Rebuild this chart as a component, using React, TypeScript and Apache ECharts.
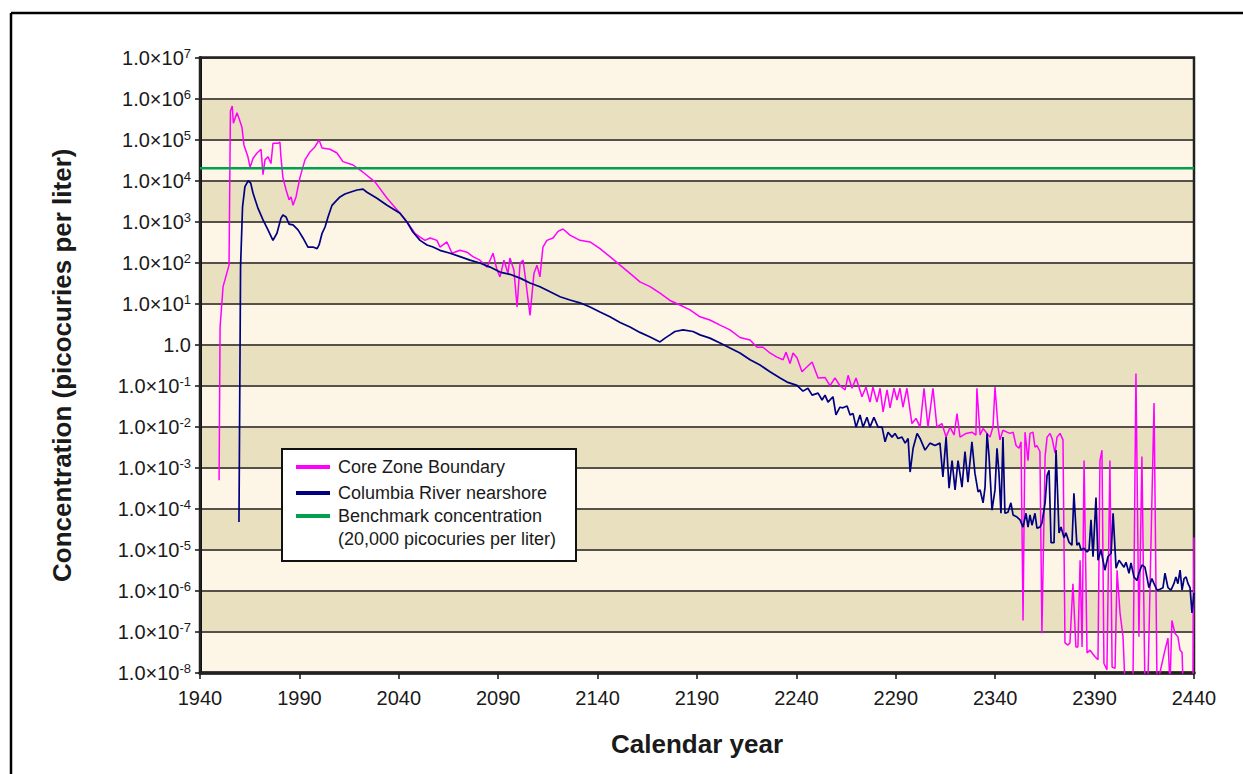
import React, { useEffect, useRef } from "react";
import * as echarts from "echarts";

const FONT = '"Liberation Sans", Arial, Helvetica, sans-serif';

// Tick years on the x axis
const yearTicks = [1940, 1990, 2040, 2090, 2140, 2190, 2240, 2290, 2340, 2390, 2440];

// Benchmark concentration (picocuries per liter)
const benchmarkValue = 20000;

// Core Zone Boundary: [calendar year, concentration pCi/L]
const coreZone: [number, number][] = [
  [1949.6, 5e-4], [1950.1, 2.7], [1951.6, 26], [1954.6, 87], [1955.3, 5.0e5], [1956.2, 6.6e5],
  [1956.8, 2.5e5], [1958.6, 4.5e5], [1959.6, 3.3e5], [1961.1, 2.0e5], [1962.1, 7.4e4],
  [1964.1, 3.8e4], [1965.2, 2.1e4], [1966.7, 3.5e4], [1968.7, 4.7e4], [1970.7, 5.8e4],
  [1971.7, 1.4e4], [1972.7, 3.2e4], [1974.2, 3.8e4], [1975.7, 2.6e4], [1976.7, 8.1e4],
  [1979.2, 8.1e4], [1980.2, 8.7e4], [1980.7, 3.8e4], [1981.7, 1.2e4], [1983.3, 5.9e3],
  [1984.8, 3.4e3], [1985.8, 4.0e3], [1986.8, 2.5e3], [1988.3, 4.0e3], [1990.3, 1.2e4],
  [1992.8, 3.2e4], [1995.3, 5.0e4], [1997.8, 6.6e4], [1999.9, 9.8e4], [2001.4, 6.2e4],
  [2005.4, 5.8e4], [2008.9, 4.7e4], [2011.9, 2.9e4], [2017.0, 2.4e4], [2022.0, 1.6e4],
  [2028.0, 9.3e3], [2034.1, 3.7e3], [2040.6, 1.6e3], [2044.1, 980], [2048.1, 520],
  [2050.7, 420], [2053.2, 350], [2055.7, 400], [2059.2, 350], [2060.7, 240], [2064.2, 320],
  [2066.8, 170], [2070.8, 200], [2074.3, 180], [2077.3, 140], [2080.8, 115], [2084.4, 78],
  [2085.9, 115], [2087.4, 170], [2089.4, 66], [2090.9, 45], [2092.9, 115], [2094.9, 55],
  [2095.9, 130], [2097.9, 66], [2099.5, 8.3], [2101.0, 98], [2102.5, 115], [2104.0, 32],
  [2106.0, 5.2], [2108.0, 55], [2109.5, 87], [2111.0, 45], [2112.5, 240], [2114.5, 350],
  [2117.6, 400], [2120.1, 580], [2122.6, 660], [2126.1, 470], [2131.1, 350], [2136.2, 320],
  [2141.2, 220], [2146.2, 140], [2151.3, 87], [2156.3, 55], [2161.3, 34], [2166.4, 26],
  [2171.4, 18], [2176.4, 12], [2181.4, 9.3], [2186.5, 7.1], [2191.5, 4.8], [2196.5, 4.0],
  [2201.6, 3.0], [2206.6, 2.3], [2211.6, 1.5], [2216.7, 1.3], [2220.2, 0.87], [2223.2, 0.87],
  [2226.7, 0.63], [2230.2, 0.5], [2233.3, 0.43], [2234.8, 0.66], [2236.8, 0.35], [2238.3, 0.63],
  [2240.3, 0.48], [2242.8, 0.22], [2247.9, 0.38], [2250.9, 0.155], [2254.4, 0.16], [2256.9, 0.1],
  [2259.4, 0.155], [2261.9, 0.1], [2264.5, 0.079], [2266.0, 0.18], [2268.0, 0.087], [2270.0, 0.155],
  [2273.0, 0.054], [2275.0, 0.093], [2277.0, 0.04], [2278.5, 0.093], [2280.5, 0.04], [2282.1, 0.087],
  [2283.6, 0.023], [2285.6, 0.079], [2287.1, 0.029], [2289.1, 0.087], [2290.6, 0.045], [2292.1, 0.087],
  [2293.6, 0.03], [2295.6, 0.087], [2298.1, 0.012], [2300.2, 0.016], [2302.2, 0.0098], [2304.2, 0.087],
  [2306.2, 0.0098], [2308.7, 0.087], [2310.7, 0.0098], [2313.2, 0.012], [2315.3, 0.0056], [2317.3, 0.0098],
  [2319.3, 0.0063], [2320.8, 0.021], [2322.3, 0.0056], [2325.3, 0.0069], [2328.3, 0.0074], [2330.3, 0.0063],
  [2330.8, 0.087], [2332.4, 0.0063], [2333.9, 0.0091], [2337.4, 0.0056], [2338.9, 0.01], [2339.9, 0.093],
  [2341.4, 0.01], [2342.4, 0.0048], [2343.9, 0.0083], [2345.9, 0.0074], [2347.4, 0.0069], [2349.0, 0.0074],
  [2350.5, 0.0035], [2352.0, 0.003], [2353.0, 0.0043], [2354.0, 1.9e-7], [2355.0, 0.0074], [2356.5, 0.0015],
  [2357.5, 0.0069], [2359.0, 0.0074], [2360.0, 0.0032], [2361.0, 0.0035], [2362.5, 0.0025], [2363.5, 9.3e-8],
  [2365.1, 0.0019], [2366.1, 0.0056], [2367.6, 0.0069], [2368.6, 0.0052], [2370.1, 0.0023], [2371.1, 0.0056],
  [2372.6, 0.0069], [2374.1, 0.0048], [2375.1, 5.4e-8], [2376.6, 4.8e-8], [2377.6, 5.4e-8], [2379.1, 1.5e-6],
  [2380.6, 4.3e-8], [2381.6, 4.3e-8], [2382.7, 5.6e-6], [2383.7, 4.3e-8], [2384.7, 0.0015], [2386.2, 3.1e-8],
  [2387.7, 3.6e-8], [2390.2, 2.5e-8], [2391.7, 2.1e-8], [2392.7, 0.0015], [2393.7, 0.0027], [2394.7, 1.7e-8],
  [2396.2, 1.2e-8], [2397.7, 0.0015], [2398.8, 1.4e-8], [2400.3, 1.3e-8], [2401.3, 3.2e-6], [2402.8, 2.9e-7],
  [2404.3, 7.6e-8], [2405.3, 5e-9], [2409.3, 5e-9], [2410.8, 0.2], [2412.3, 7.6e-8], [2413.8, 0.0019],
  [2415.3, 5e-9], [2416.8, 5e-9], [2419.9, 0.038], [2421.4, 5e-9], [2425.4, 3.6e-8], [2426.9, 7.1e-8],
  [2427.9, 5e-9], [2428.9, 1.9e-7], [2430.4, 9.3e-8], [2431.9, 7.6e-8], [2433.0, 3.6e-8], [2434.0, 3.2e-8],
  [2434.5, 5e-9], [2439.5, 5e-9], [2440.0, 2e-5],
];

// Columbia River nearshore: [calendar year, concentration pCi/L]
const riverNearshore: [number, number][] = [
  [1959.6, 4.8e-5], [1960.4, 80], [1961.4, 2.3e3], [1962.6, 7.1e3], [1964.3, 1.0e4], [1965.5, 8.7e3],
  [1966.7, 4.9e3], [1969.2, 2.1e3], [1971.7, 1.1e3], [1974.2, 630], [1976.7, 350], [1978.7, 520],
  [1980.7, 1.2e3], [1981.7, 1.45e3], [1983.3, 1.3e3], [1984.8, 870], [1986.8, 830], [1989.3, 630],
  [1991.8, 400], [1994.3, 240], [1996.8, 240], [1998.9, 220], [1999.9, 270], [2001.4, 520],
  [2002.9, 740], [2004.4, 1.3e3], [2006.4, 2.5e3], [2007.9, 3.0e3], [2010.4, 4.0e3], [2012.9, 4.7e3],
  [2015.5, 5.2e3], [2019.0, 5.9e3], [2022.0, 6.2e3], [2024.0, 5.2e3], [2029.0, 3.7e3], [2034.1, 2.5e3],
  [2040.6, 1.6e3], [2044.1, 980], [2047.1, 560], [2050.7, 350], [2054.2, 270], [2057.2, 240],
  [2060.7, 200], [2065.8, 170], [2070.8, 140], [2075.8, 115], [2080.8, 98], [2085.9, 78],
  [2090.9, 59], [2095.9, 52], [2101.0, 42], [2106.0, 32], [2111.0, 26], [2116.1, 19.5],
  [2121.1, 14.8], [2126.1, 12.3], [2131.1, 10.5], [2136.2, 8.3], [2141.2, 6.3], [2146.2, 4.8],
  [2151.3, 3.5], [2156.3, 2.7], [2161.3, 2.0], [2166.4, 1.55], [2171.4, 1.17], [2173.9, 1.45],
  [2176.4, 1.74], [2178.9, 2.1], [2183.0, 2.3], [2188.0, 2.1], [2191.5, 1.74], [2196.5, 1.45],
  [2201.6, 1.1], [2206.6, 0.83], [2211.6, 0.63], [2216.7, 0.43], [2221.7, 0.32], [2226.7, 0.22],
  [2231.8, 0.155], [2235.3, 0.123], [2240.3, 0.102], [2243.3, 0.074], [2245.8, 0.087], [2247.9, 0.059],
  [2250.9, 0.066], [2252.9, 0.045], [2254.4, 0.059], [2255.9, 0.04], [2258.4, 0.054], [2259.9, 0.0195],
  [2261.9, 0.03], [2263.4, 0.029], [2265.5, 0.032], [2267.0, 0.0195], [2268.5, 0.021], [2270.0, 0.0098],
  [2272.0, 0.0195], [2273.5, 0.0098], [2275.5, 0.017], [2277.0, 0.0098], [2279.0, 0.017], [2281.1, 0.0098],
  [2283.1, 0.0098], [2284.6, 0.0043], [2286.1, 0.0074], [2288.1, 0.0056], [2289.6, 0.0069], [2291.1, 0.0052],
  [2293.1, 0.0056], [2294.7, 0.004], [2296.2, 0.0052], [2297.2, 0.00079], [2298.7, 0.003], [2300.7, 0.0069],
  [2302.2, 0.0052], [2304.7, 0.0027], [2307.2, 0.004], [2309.7, 0.0035], [2312.2, 0.004], [2313.7, 0.0006],
  [2315.3, 0.0056], [2316.8, 0.00032], [2318.3, 0.0015], [2319.8, 0.00029], [2321.3, 0.0015], [2323.3, 0.00034],
  [2324.8, 0.0025], [2326.3, 0.00045], [2328.3, 0.0043], [2329.8, 0.00074], [2331.4, 0.00026], [2332.4, 0.00029],
  [2333.9, 0.00014], [2334.9, 0.00034], [2335.9, 0.0069], [2336.9, 0.0019], [2338.4, 9.3e-5], [2339.9, 0.00029],
  [2340.9, 0.003], [2341.9, 0.00074], [2342.9, 7.8e-5], [2343.9, 0.0056], [2344.9, 7.8e-5], [2346.4, 8.3e-5],
  [2347.9, 0.00014], [2349.0, 7.1e-5], [2351.0, 6.3e-5], [2352.5, 5.4e-5], [2354.0, 3.6e-5], [2355.5, 7.8e-5],
  [2356.5, 3.6e-5], [2357.5, 7.1e-5], [2358.5, 4.0e-5], [2360.0, 7.8e-5], [2361.0, 3.4e-5], [2362.5, 3.6e-5],
  [2363.5, 4.5e-5], [2365.1, 0.00014], [2366.1, 0.00066], [2367.1, 0.00087], [2368.1, 1.5e-5], [2369.6, 1.5e-5],
  [2370.6, 0.0027], [2372.1, 2.6e-5], [2373.1, 3.6e-5], [2374.6, 2.0e-5], [2375.6, 2.6e-5], [2377.1, 1.55e-5],
  [2378.6, 1.3e-5], [2379.6, 0.00024], [2381.1, 1.3e-5], [2382.1, 1.5e-5], [2383.2, 1.0e-5], [2384.7, 1.1e-5],
  [2386.2, 8.9e-6], [2387.2, 1.0e-5], [2388.2, 5.4e-5], [2389.2, 6.8e-6], [2390.7, 0.00019], [2391.7, 5.6e-6],
  [2393.2, 1.0e-5], [2394.2, 5.6e-6], [2395.2, 3.2e-6], [2396.7, 6.8e-6], [2398.3, 8.3e-6], [2399.3, 7.8e-5],
  [2400.8, 3.6e-6], [2402.3, 5.6e-6], [2403.3, 4.8e-6], [2404.8, 3.8e-6], [2405.8, 5.0e-6], [2407.3, 2.7e-6],
  [2408.3, 4.8e-6], [2409.8, 2.2e-6], [2411.3, 1.8e-6], [2412.3, 2.7e-6], [2413.8, 4.3e-6], [2415.3, 3.8e-6],
  [2416.3, 2.2e-6], [2417.3, 1.2e-6], [2418.8, 2.0e-6], [2419.9, 1.5e-6], [2421.4, 1.05e-6], [2422.9, 1.1e-6],
  [2424.4, 1.2e-6], [2425.4, 2.7e-6], [2426.9, 1.2e-6], [2428.4, 1.05e-6], [2429.9, 1.5e-6], [2430.9, 2.2e-6],
  [2431.9, 1.5e-6], [2433.0, 3.2e-6], [2434.0, 1.05e-6], [2435.0, 2.0e-6], [2436.0, 2.2e-6], [2437.0, 1.5e-6],
  [2438.0, 1.2e-6], [2439.0, 2.9e-7], [2440.0, 8.9e-7],
];

const seriesNames = [
  "Core Zone Boundary",
  "Columbia River nearshore",
  "Benchmark concentration",
];
const benchmarkNote = "(20,000 picocuries per liter)";

const PINK = "#ff00ff";
const NAVY = "#000080";
const GREEN = "#00a04c";

export default function App() {
  const ref = useRef<HTMLDivElement>(null);

  useEffect(() => {
    document.body.style.margin = "0";
    if (!ref.current) return;
    const chart = echarts.init(ref.current, null, { renderer: "svg" });

    const legendRows = [
      { y: 467, color: PINK, text: seriesNames[0] },
      { y: 493, color: NAVY, text: seriesNames[1] },
      { y: 516, color: GREEN, text: seriesNames[2] },
    ];

    const graphic: any[] = [
      { type: "line", shape: { x1: 11, y1: 13, x2: 1243, y2: 13 }, style: { stroke: "#000", lineWidth: 2.5 }, z: 100 },
      { type: "line", shape: { x1: 11, y1: 13, x2: 11, y2: 774 }, style: { stroke: "#000", lineWidth: 2.5 }, z: 100 },
      {
        type: "rect",
        shape: { x: 282, y: 449, width: 294, height: 112 },
        style: { fill: "#ffffff", stroke: "#111", lineWidth: 2 },
        z: 100,
      },
    ];
    legendRows.forEach((r) => {
      graphic.push({
        type: "line",
        shape: { x1: 296, y1: r.y, x2: 330, y2: r.y },
        style: { stroke: r.color, lineWidth: 4 },
        z: 101,
      });
      graphic.push({
        type: "text",
        x: 338,
        y: r.y,
        style: {
          text: r.text,
          font: `18px ${FONT}`,
          fill: "#1a1a1a",
          textVerticalAlign: "middle",
          verticalAlign: "middle",
        },
        z: 101,
      });
    });
    graphic.push({
      type: "text",
      x: 338,
      y: 539,
      style: {
        text: benchmarkNote,
        font: `18px ${FONT}`,
        fill: "#1a1a1a",
        textVerticalAlign: "middle",
        verticalAlign: "middle",
      },
      z: 101,
    });

    const option: any = {
      animation: false,
      backgroundColor: "#ffffff",
      grid: {
        left: 200,
        top: 57.5,
        width: 994,
        height: 615.5,
        show: true,
        borderColor: "#222",
        borderWidth: 2.5,
        backgroundColor: "transparent",
        z: 2,
      },
      xAxis: {
        type: "value",
        min: 1940,
        max: 2440,
        name: "Calendar year",
        nameLocation: "middle",
        nameGap: 58,
        nameTextStyle: { fontSize: 26, fontWeight: "bold", fontFamily: FONT, color: "#1a1a1a" },
        axisLine: { show: true, onZero: false, lineStyle: { color: "#111", width: 3.5 } },
        axisTick: { show: true, length: 6, lineStyle: { color: "#111", width: 1.5 }, customValues: yearTicks },
        axisLabel: {
          customValues: yearTicks,
          margin: 15,
          fontSize: 20,
          fontFamily: FONT,
          color: "#1a1a1a",
          formatter: (v: number) => String(Math.round(v)),
        },
        splitLine: { show: false },
      },
      yAxis: {
        type: "log",
        logBase: 10,
        min: 1e-8,
        max: 1e7,
        interval: 1,
        name: "Concentration (picocuries per liter)",
        nameLocation: "middle",
        nameGap: 125,
        nameTextStyle: { fontSize: 26, fontWeight: "bold", fontFamily: FONT, color: "#1a1a1a" },
        axisLine: { show: true, lineStyle: { color: "#111", width: 3 } },
        axisTick: { show: true, length: 5, interval: 0, lineStyle: { color: "#111", width: 1.5 } },
        axisLabel: {
          margin: 9,
          interval: 0,
          showMinLabel: true,
          showMaxLabel: true,
          hideOverlap: false,
          formatter: (v: number) => {
            const e = Math.round(Math.log10(v));
            if (e === 0) return "{b|1.0}";
            return `{b|1.0×10}{s|${e}}`;
          },
          rich: {
            b: { fontSize: 20, fontFamily: FONT, color: "#1a1a1a", lineHeight: 22 },
            s: { fontSize: 13, fontFamily: FONT, color: "#1a1a1a", lineHeight: 13, verticalAlign: "top" },
          },
        },
        splitLine: { show: true, interval: 0, lineStyle: { color: "#55514a", width: 1.8 } },
        splitArea: { show: true, interval: 0, areaStyle: { color: ["#fdf6e6", "#e9e0c0"] } },
      },
      series: [
        {
          type: "line",
          name: seriesNames[0],
          data: coreZone,
          symbol: "none",
          showSymbol: false,
          clip: true,
          lineStyle: { color: PINK, width: 1.5 },
          z: 3,
        },
        {
          type: "line",
          name: seriesNames[1],
          data: riverNearshore,
          symbol: "none",
          showSymbol: false,
          clip: true,
          lineStyle: { color: NAVY, width: 1.7 },
          z: 4,
        },
        {
          type: "line",
          name: seriesNames[2],
          data: [
            [1940, benchmarkValue],
            [2440, benchmarkValue],
          ],
          symbol: "none",
          showSymbol: false,
          lineStyle: { color: GREEN, width: 2.5 },
          z: 5,
        },
      ],
      graphic,
    };

    chart.setOption(option);
    return () => chart.dispose();
  }, []);

  return <div ref={ref} style={{ width: 1243, height: 774, background: "#fff" }} />;
}
